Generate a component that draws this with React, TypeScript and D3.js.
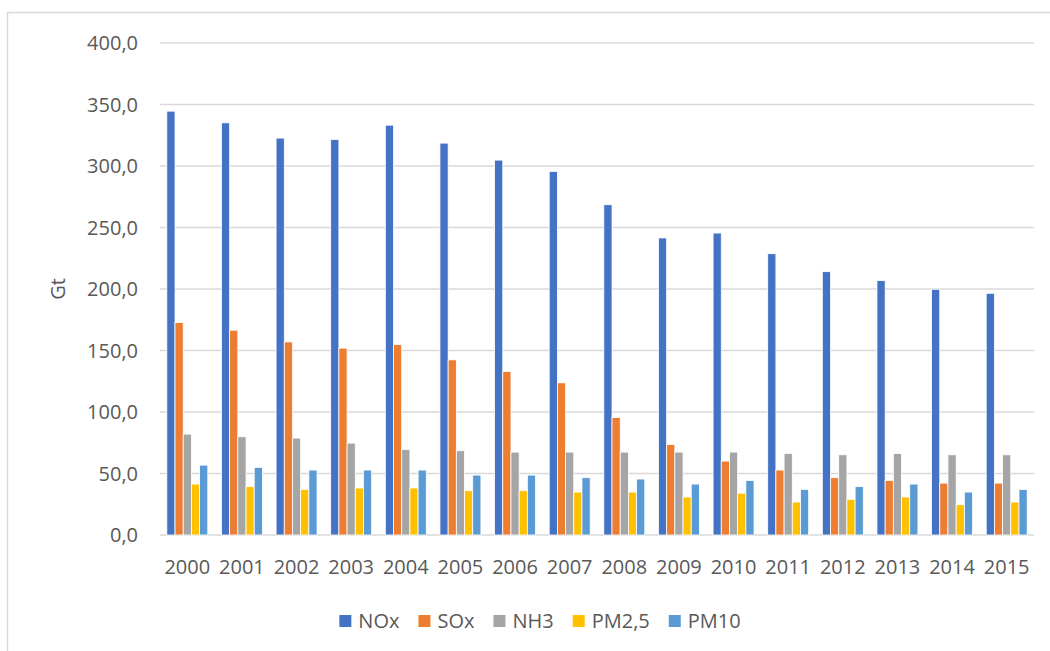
import React, { useRef, useEffect } from "react";
import * as d3 from "d3";

const years = [
  "2000", "2001", "2002", "2003", "2004", "2005", "2006", "2007",
  "2008", "2009", "2010", "2011", "2012", "2013", "2014", "2015",
];
const seriesNames = ["NOx", "SOx", "NH3", "PM2,5", "PM10"];
const nox = [344.6, 335.1, 322.7, 321.6, 333.2, 318.6, 304.8, 295.6, 268.5, 241.5, 245.5, 228.7, 214.1, 206.8, 199.8, 196.5];
const sox = [172.7, 166.5, 157.0, 151.9, 154.8, 142.4, 132.9, 123.7, 95.6, 73.6, 60.1, 52.8, 46.6, 44.4, 42.2, 42.2];
const nh3 = [82.0, 79.9, 78.8, 74.7, 69.6, 68.5, 67.4, 67.4, 67.4, 67.4, 67.4, 66.3, 65.2, 66.3, 65.2, 65.2];
const pm25 = [41.4, 39.3, 37.1, 38.2, 38.2, 36.0, 36.0, 34.9, 34.9, 30.9, 34.0, 26.8, 29.0, 30.9, 24.6, 26.8];
const pm10 = [56.8, 55.0, 52.8, 52.8, 52.8, 48.7, 48.7, 46.6, 45.5, 41.4, 44.4, 37.1, 39.3, 41.4, 34.9, 37.1];
const seriesValues = [nox, sox, nh3, pm25, pm10];
const colors = ["#4472C4", "#ED7D31", "#A5A5A5", "#FFC000", "#5B9BD5"];
const yTicks = [0, 50, 100, 150, 200, 250, 300, 350, 400];
const yTitle = "Gt";

const W = 1050;
const H = 651;
const FONT = "'Open Sans', 'Noto Sans', sans-serif";
const TEXT = "#595959";
const FS = "20px";

export default function App() {
  const ref = useRef<SVGSVGElement | null>(null);

  useEffect(() => {
    document.body.style.margin = "0";
    const root = d3.select(ref.current);
    root.selectAll("*").remove();

    const plot = { left: 160, right: 1034, top: 43, bottom: 535 };

    // chart frame (cropped at right/bottom in the original)
    root
      .append("rect")
      .attr("x", 7.5)
      .attr("y", 12.5)
      .attr("width", 1200)
      .attr("height", 800)
      .attr("fill", "#fff")
      .attr("stroke", "#d9d9d9")
      .attr("stroke-width", 1.5);

    const x = d3
      .scaleBand<string>()
      .domain(years)
      .range([plot.left, plot.right])
      .paddingInner(0.25)
      .paddingOuter(0.125);
    const xs = d3
      .scaleBand<string>()
      .domain(seriesNames)
      .range([0, x.bandwidth()]);
    const y = d3
      .scaleLinear()
      .domain([0, 400])
      .range([plot.bottom, plot.top]);

    const locale = d3.formatLocale({
      decimal: ",",
      thousands: ".",
      grouping: [3],
      currency: ["", "€"],
    });
    const fmt = locale.format(".1f");

    // gridlines
    root
      .append("g")
      .selectAll("line")
      .data(yTicks)
      .enter()
      .append("line")
      .attr("x1", plot.left)
      .attr("x2", plot.right)
      .attr("y1", (d) => y(d))
      .attr("y2", (d) => y(d))
      .attr("stroke", "#d9d9d9")
      .attr("stroke-width", 1.5);

    // y tick labels
    root
      .append("g")
      .selectAll("text")
      .data(yTicks)
      .enter()
      .append("text")
      .attr("x", 138)
      .attr("y", (d) => y(d))
      .attr("dy", "0.35em")
      .attr("text-anchor", "end")
      .attr("fill", TEXT)
      .style("font-family", FONT)
      .style("font-size", FS)
      .text((d) => fmt(d));

    // y title
    root
      .append("text")
      .attr("transform", `translate(58,${y(200)}) rotate(-90)`)
      .attr("text-anchor", "middle")
      .attr("dy", "0.35em")
      .attr("fill", TEXT)
      .style("font-family", FONT)
      .style("font-size", FS)
      .text(yTitle);

    // bars
    seriesNames.forEach((name, si) => {
      root
        .append("g")
        .selectAll("rect")
        .data(years)
        .enter()
        .append("rect")
        .attr("x", (d) => (x(d) ?? 0) + (xs(name) ?? 0))
        .attr("y", (d, i) => y(seriesValues[si][i]))
        .attr("width", xs.bandwidth())
        .attr("height", (d, i) => y(0) - y(seriesValues[si][i]))
        .attr("fill", colors[si])
        .attr("stroke", "#fff")
        .attr("stroke-width", 0.8);
    });

    // x labels
    root
      .append("g")
      .selectAll("text")
      .data(years)
      .enter()
      .append("text")
      .attr("x", (d) => (x(d) ?? 0) + x.bandwidth() / 2)
      .attr("y", 567)
      .attr("dy", "0.35em")
      .attr("text-anchor", "middle")
      .attr("fill", TEXT)
      .style("font-family", FONT)
      .style("font-size", FS)
      .text((d) => d);

    // legend, centered on the chart frame
    const legend = root.append("g");
    const items = seriesNames.map((name, i) => {
      const g = legend.append("g");
      g.append("rect")
        .attr("width", 12)
        .attr("height", 12)
        .attr("y", -6)
        .attr("fill", colors[i]);
      const t = g
        .append("text")
        .attr("x", 19)
        .attr("dy", "0.35em")
        .attr("fill", TEXT)
        .style("font-family", FONT)
        .style("font-size", FS)
        .text(name);
      const tw = (t.node() as SVGTextElement).getComputedTextLength();
      return { g, w: 19 + tw };
    });
    const gap = 19;
    const total = d3.sum(items, (d) => d.w) + gap * (items.length - 1);
    let cx = 540 - total / 2;
    items.forEach((it) => {
      it.g.attr("transform", `translate(${cx},621)`);
      cx += it.w + gap;
    });
  }, []);

  return (
    <svg
      ref={ref}
      width={W}
      height={H}
      style={{ display: "block", background: "#fff" }}
    />
  );
}
